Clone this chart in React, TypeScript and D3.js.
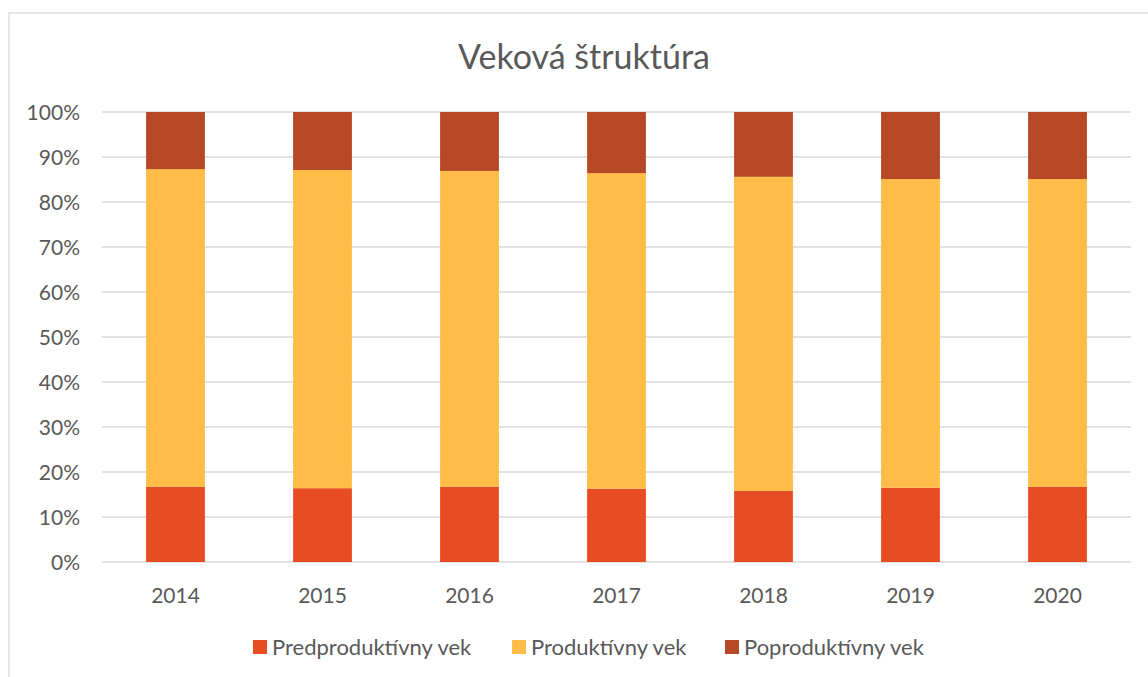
import React from "react";
import * as d3 from "d3";

const years = ["2014", "2015", "2016", "2017", "2018", "2019", "2020"];
const predproduktivny = [16.7, 16.4, 16.7, 16.3, 15.8, 16.5, 16.7];
const produktivny = [70.6, 70.7, 70.2, 70.1, 69.8, 68.6, 68.4];
const poproduktivny = [12.7, 12.9, 13.1, 13.6, 14.4, 14.9, 14.9];
const yTicks = [0, 10, 20, 30, 40, 50, 60, 70, 80, 90, 100];
const seriesNames = ["Predproduktívny vek", "Produktívny vek", "Poproduktívny vek"];
const colors = ["#E84C22", "#FFBD47", "#B64825"];

const W = 1148;
const H = 677;
const FONT = "Lato, 'Open Sans', sans-serif";
const TXT = "#595959";

export default function App() {
  const x = d3.scaleBand<string>().domain(years).range([102, 1131]).paddingInner(0.6).paddingOuter(0.3);
  const y = d3.scaleLinear().domain([0, 100]).range([562, 112]);

  const rows = years.map((yr, i) => ({
    year: yr,
    a: predproduktivny[i],
    b: produktivny[i],
    c: poproduktivny[i],
  }));
  const stack = d3.stack<any>().keys(["a", "b", "c"]).offset(d3.stackOffsetExpand);
  const layers = stack(rows);

  const legendX = [253, 512, 725];

  return (
    <svg width={W} height={H} style={{ position: "absolute", left: 0, top: 0 }}>
      <rect x={0} y={0} width={W} height={H} fill="#fff" />
      <rect x={9} y={13} width={W + 10} height={H + 10} fill="#fff" stroke="#D9D9D9" strokeWidth={1.3} />
      <text x={584} y={69} textAnchor="middle" fontFamily={FONT} fontSize={34} fill={TXT}>
        Veková štruktúra
      </text>
      {yTicks.map((t) => (
        <g key={t}>
          <line x1={102} x2={1131} y1={y(t)} y2={y(t)} stroke="#D9D9D9" strokeWidth={1.3} />
          <text x={80} y={y(t)} dy="0.36em" textAnchor="end" fontFamily={FONT} fontSize={21} fill={TXT}>
            {t}%
          </text>
        </g>
      ))}
      {layers.map((layer, li) => (
        <g key={li} fill={colors[li]}>
          {layer.map((d: any, i: number) => (
            <rect
              key={i}
              x={x(years[i])}
              width={x.bandwidth()}
              y={y(d[1] * 100)}
              height={y(d[0] * 100) - y(d[1] * 100)}
            />
          ))}
        </g>
      ))}
      {years.map((yr) => (
        <text
          key={yr}
          x={(x(yr) as number) + x.bandwidth() / 2}
          y={603}
          textAnchor="middle"
          fontFamily={FONT}
          fontSize={21}
          fill={TXT}
        >
          {yr}
        </text>
      ))}
      {seriesNames.map((n, i) => (
        <g key={n}>
          <rect x={legendX[i]} y={640} width={14} height={14} fill={colors[i]} />
          <text x={legendX[i] + 19} y={655} fontFamily={FONT} fontSize={22} fill={TXT}>
            {n}
          </text>
        </g>
      ))}
    </svg>
  );
}
